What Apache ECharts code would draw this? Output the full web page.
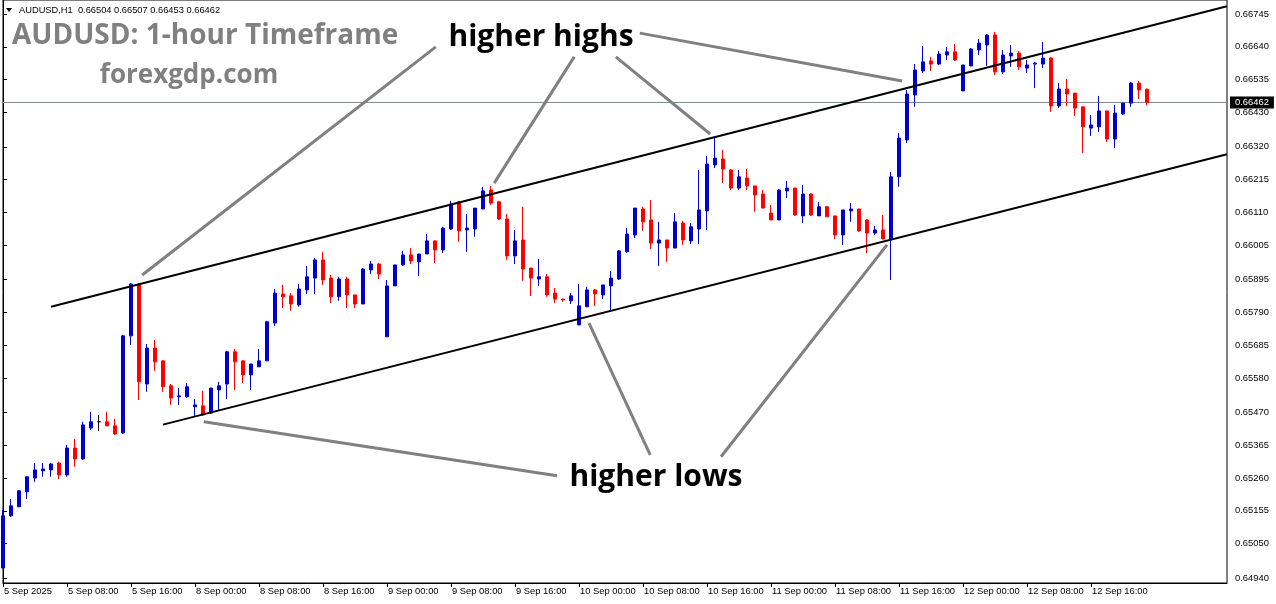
<!DOCTYPE html>
<html><head><meta charset="utf-8">
<script src="https://cdn.jsdelivr.net/npm/echarts@6/dist/echarts.min.js"></script>
<style>html,body{margin:0;padding:0;background:#fff}#c{width:1276px;height:604px}</style>
</head><body><div id="c"></div>
<script>
// ---- data ----
const dayNames = ['5 Sep', '8 Sep', '9 Sep', '10 Sep', '11 Sep', '12 Sep'];
const futureSlots = 10;
const xTickLabels = ['5 Sep 2025', '5 Sep 08:00', '5 Sep 16:00', '8 Sep 00:00', '8 Sep 08:00', '8 Sep 16:00',
  '9 Sep 00:00', '9 Sep 08:00', '9 Sep 16:00', '10 Sep 00:00', '10 Sep 08:00', '10 Sep 16:00',
  '11 Sep 00:00', '11 Sep 08:00', '11 Sep 16:00', '12 Sep 00:00', '12 Sep 08:00', '12 Sep 16:00'];
const yTickValues = [0.64940, 0.65050, 0.65155, 0.65260, 0.65365, 0.65470, 0.65580, 0.65685, 0.65790,
  0.65895, 0.66005, 0.66110, 0.66215, 0.66320, 0.66430, 0.66535, 0.66640, 0.66745];

const opens = [0.64972,0.65139,0.65168,0.65216,0.65260,0.65283,0.65286,0.65308,0.65270,0.65356,
0.65321,0.65420,0.65440,0.65440,0.65427,0.65404,0.65715,0.65878,0.65561,0.65676,
0.65635,0.65555,0.65520,0.65520,0.65488,0.65491,0.65468,0.65542,0.65561,0.65664,
0.65635,0.65590,0.65616,0.65635,0.65756,0.65849,0.65843,0.65814,0.65862,0.65900,
0.65958,0.65900,0.65840,0.65897,0.65846,0.65817,0.65926,0.65945,0.65712,0.65875,
0.65942,0.65974,0.65952,0.65977,0.66019,0.65990,0.66057,0.66144,0.66054,0.66057,
0.66121,0.66182,0.66144,0.66089,0.65971,0.66022,0.65932,0.65897,0.65904,0.65852,
0.65833,0.65827,0.65750,0.65808,0.65862,0.65846,0.65875,0.65897,0.65984,0.66038,
0.66121,0.66086,0.66012,0.66022,0.65996,0.66076,0.66019,0.66057,0.66115,0.66262,
0.66281,0.66246,0.66188,0.66220,0.66195,0.66169,0.66108,0.66086,0.66179,0.66188,
0.66099,0.66169,0.66099,0.66128,0.66099,0.66038,0.66115,0.66121,0.66086,0.66044,
0.66054,0.66025,0.66224,0.66342,0.66486,0.66563,0.66595,0.66585,0.66614,0.66624,
0.66499,0.66579,0.66630,0.66646,0.66678,0.66560,0.66611,0.66620,0.66572,0.66585,
0.66585,0.66604,0.66451,0.66505,0.66492,0.66448,0.66380,0.66384,0.66435,0.66345,
0.66425,0.66460,0.66524,0.66504];
const highs = [0.65158,0.65193,0.65222,0.65264,0.65308,0.65308,0.65308,0.65312,0.65366,0.65385,
0.65440,0.65472,0.65462,0.65472,0.65449,0.65718,0.65884,0.65884,0.65689,0.65702,
0.65635,0.65561,0.65548,0.65564,0.65513,0.65539,0.65548,0.65568,0.65667,0.65673,
0.65635,0.65625,0.65673,0.65763,0.65865,0.65878,0.65852,0.65881,0.65939,0.65964,
0.65984,0.65910,0.65904,0.65904,0.65846,0.65932,0.65955,0.65948,0.65894,0.65942,
0.65987,0.65996,0.65977,0.66041,0.66019,0.66064,0.66147,0.66147,0.66105,0.66124,
0.66192,0.66195,0.66147,0.66105,0.66054,0.66128,0.65932,0.65961,0.65913,0.65868,
0.65833,0.65852,0.65881,0.65872,0.65865,0.65878,0.65923,0.65990,0.66060,0.66124,
0.66128,0.66150,0.66080,0.66022,0.66108,0.66083,0.66076,0.66246,0.66291,0.66352,
0.66310,0.66249,0.66246,0.66249,0.66195,0.66182,0.66134,0.66185,0.66211,0.66188,
0.66198,0.66172,0.66144,0.66131,0.66099,0.66118,0.66140,0.66121,0.66089,0.66067,
0.66102,0.66240,0.66364,0.66502,0.66585,0.66643,0.66608,0.66627,0.66640,0.66649,
0.66582,0.66636,0.66665,0.66681,0.66688,0.66630,0.66646,0.66627,0.66598,0.66592,
0.66656,0.66608,0.66524,0.66537,0.66492,0.66448,0.66422,0.66483,0.66435,0.66454,
0.66460,0.66528,0.66531,0.66507];
const lows = [0.64972,0.65136,0.65168,0.65193,0.65248,0.65264,0.65264,0.65257,0.65264,0.65296,
0.65318,0.65414,0.65411,0.65427,0.65398,0.65401,0.65686,0.65510,0.65536,0.65603,
0.65536,0.65494,0.65494,0.65516,0.65456,0.65459,0.65465,0.65478,0.65513,0.65542,
0.65564,0.65542,0.65616,0.65635,0.65747,0.65804,0.65795,0.65808,0.65849,0.65849,
0.65878,0.65820,0.65827,0.65804,0.65804,0.65817,0.65913,0.65897,0.65712,0.65875,
0.65939,0.65945,0.65907,0.65977,0.65948,0.65980,0.66054,0.66016,0.65984,0.66032,
0.66121,0.66134,0.66086,0.65958,0.65945,0.65891,0.65843,0.65875,0.65840,0.65820,
0.65824,0.65817,0.65750,0.65808,0.65811,0.65833,0.65795,0.65894,0.65980,0.66028,
0.66051,0.65993,0.65939,0.65952,0.65996,0.66006,0.66009,0.66009,0.66054,0.66252,
0.66204,0.66182,0.66182,0.66182,0.66112,0.66124,0.66086,0.66086,0.66156,0.66099,
0.66076,0.66099,0.66099,0.66096,0.66025,0.66006,0.66080,0.66048,0.65980,0.66038,
0.66025,0.65894,0.66192,0.66332,0.66448,0.66556,0.66563,0.66582,0.66598,0.66595,
0.66499,0.66579,0.66614,0.66579,0.66550,0.66553,0.66576,0.66566,0.66556,0.66508,
0.66572,0.66432,0.66444,0.66451,0.66419,0.66300,0.66355,0.66368,0.66336,0.66316,
0.66422,0.66448,0.66473,0.66453];
const closes = [0.65139,0.65171,0.65219,0.65264,0.65286,0.65289,0.65305,0.65270,0.65356,0.65321,
0.65430,0.65440,0.65440,0.65427,0.65401,0.65715,0.65881,0.65568,0.65676,0.65632,
0.65552,0.65516,0.65523,0.65552,0.65494,0.65462,0.65548,0.65555,0.65664,0.65632,
0.65590,0.65625,0.65635,0.65760,0.65852,0.65840,0.65817,0.65865,0.65904,0.65958,
0.65894,0.65840,0.65897,0.65846,0.65817,0.65929,0.65945,0.65913,0.65875,0.65942,
0.65974,0.65955,0.65977,0.66019,0.65990,0.66060,0.66137,0.66051,0.66060,0.66124,
0.66179,0.66140,0.66089,0.65971,0.66019,0.65929,0.65900,0.65904,0.65846,0.65833,
0.65830,0.65843,0.65811,0.65862,0.65849,0.65878,0.65900,0.65987,0.66041,0.66124,
0.66080,0.66012,0.66022,0.65996,0.66080,0.66022,0.66064,0.66118,0.66265,0.66284,
0.66249,0.66188,0.66224,0.66195,0.66166,0.66124,0.66086,0.66182,0.66188,0.66102,
0.66169,0.66102,0.66128,0.66096,0.66038,0.66118,0.66121,0.66051,0.66044,0.66054,
0.66025,0.66224,0.66348,0.66489,0.66566,0.66592,0.66585,0.66617,0.66624,0.66598,
0.66582,0.66633,0.66652,0.66678,0.66560,0.66614,0.66620,0.66576,0.66582,0.66588,
0.66604,0.66451,0.66505,0.66489,0.66444,0.66384,0.66390,0.66435,0.66345,0.66428,
0.66460,0.66524,0.66502,0.66462];

const headerText = 'AUDUSD,H1  0.66504 0.66507 0.66453 0.66462';
const lastPrice = 0.66462;
// trend channel anchors [bar index, price]
const upperChannel = [[6, 0.65808], [153, 0.66770]];
const lowerChannel = [[20, 0.65431], [153, 0.66296]];
// pointer lines from the labels to the swing points [bar index, price]
const pointerLines = [
  [[54.1, 0.66640], [17.4, 0.65910]],
  [[71.4, 0.66608], [61.4, 0.66204]],
  [[76.6, 0.66608], [88.4, 0.66361]],
  [[79.6, 0.66684], [112.4, 0.66531]],
  [[69.25, 0.65267], [25.1, 0.65440]],
  [[80.9, 0.65334], [73.25, 0.65756]],
  [[89.75, 0.65328], [110.5, 0.66006]]
];

// ---- build ----
const categories = [];
dayNames.forEach(d => { for (let h = 0; h < 24; h++) categories.push(d + ' ' + String(h).padStart(2, '0') + ':00'); });
for (let k = 1; k <= futureSlots; k++) categories.push('+' + k);
const lastIndex = categories.length - 1;

const candleData = opens.map((o, i) => {
  const item = { value: [o, closes[i], lows[i], highs[i]] };
  if (o === closes[i]) item.itemStyle = { color: '#000', borderColor: '#000', color0: '#000', borderColor0: '#000' };
  return item;
});

const FONT = '"Liberation Sans", Arial, sans-serif';
const AXIS_FS = 9.4;
const lineSeries = (data, color, width) => ({
  type: 'line', xAxisIndex: 1, yAxisIndex: 0, data: data, symbol: 'none', silent: true,
  lineStyle: { color: color, width: width }, z: 3, animation: false
});

const bidSeries = {
  type: 'line', xAxisIndex: 1, yAxisIndex: 0, symbol: 'none', silent: true, z: 1, animation: false,
  data: [[0, lastPrice], [lastIndex, lastPrice]],
  lineStyle: { color: '#778899', width: 1 },
  endLabel: {
    show: true, distance: 3, formatter: () => lastPrice.toFixed(5),
    backgroundColor: '#000', color: '#fff', fontSize: AXIS_FS, fontFamily: FONT,
    padding: [2, 5, 1, 5]
  }
};

const chart = echarts.init(document.getElementById('c'), null, { renderer: 'canvas' });
chart.setOption({
  animation: false,
  backgroundColor: '#fff',
  grid: { left: 3, right: 49, top: 0, bottom: 21, show: true, borderColor: '#000', borderWidth: 1, containLabel: false },
  xAxis: [{
    type: 'category', data: categories, boundaryGap: false,
    axisLine: { lineStyle: { color: '#000', width: 1 } },
    axisTick: { length: 4, lineStyle: { color: '#000' }, interval: (i) => i % 8 === 0 && i / 8 < xTickLabels.length },
    axisLabel: {
      interval: (i) => i % 8 === 0 && i / 8 < xTickLabels.length,
      formatter: (v, i) => xTickLabels[i / 8] || '',
      align: 'left', margin: 4, color: '#000', fontSize: AXIS_FS, fontFamily: FONT, padding: [0, 0, 0, 1]
    },
    splitLine: { show: false }
  }, {
    type: 'value', min: 0, max: lastIndex, show: false
  }],
  yAxis: [{
    type: 'value', position: 'right', min: 0.64924, max: 0.66790, scale: true,
    axisLine: { show: true, lineStyle: { color: '#000', width: 1 } },
    axisTick: { show: true, length: 4, customValues: yTickValues, lineStyle: { color: '#000' } },
    axisLabel: { customValues: yTickValues, formatter: v => v.toFixed(5), color: '#000', fontSize: AXIS_FS, fontFamily: FONT, margin: 8 },
    splitLine: { show: false }
  }],
  series: [bidSeries, {
    type: 'candlestick', xAxisIndex: 0, yAxisIndex: 0, data: candleData, barWidth: 4,
    itemStyle: { color: '#0000cd', color0: '#ff0000', borderColor: '#0000cd', borderColor0: '#ff0000', borderWidth: 1 },
    emphasis: { disabled: true },
    z: 2
  },
    lineSeries(upperChannel, '#000', 2),
    lineSeries(lowerChannel, '#000', 2)
  ].concat(pointerLines.map(p => lineSeries(p, '#808080', 3))),
  graphic: [
    { type: 'polygon', shape: { points: [[6, 8], [12, 8], [9, 12]] }, style: { fill: '#000' }, z: 10 },
    { type: 'text', x: 19, y: 10, style: { text: headerText, font: '9.3px ' + FONT, fill: '#000', verticalAlign: 'middle' }, z: 10 },
    { type: 'text', x: 12, y: 36, style: { text: 'AUDUSD: 1-hour Timeframe', font: 'bold 28px "Open Sans"', fill: '#808080', verticalAlign: 'middle' }, z: 10 },
    { type: 'text', x: 189, y: 76, style: { text: 'forexgdp.com', font: 'bold 26px "Open Sans"', fill: '#808080', align: 'center', verticalAlign: 'middle' }, z: 10 },
    { type: 'text', x: 541, y: 37, style: { text: 'higher highs', font: 'bold 30px "Open Sans"', fill: '#000', align: 'center', verticalAlign: 'middle' }, z: 10 },
    { type: 'text', x: 656, y: 477, style: { text: 'higher lows', font: 'bold 30px "Open Sans"', fill: '#000', align: 'center', verticalAlign: 'middle' }, z: 10 }
  ]
});
</script>
</body></html>
